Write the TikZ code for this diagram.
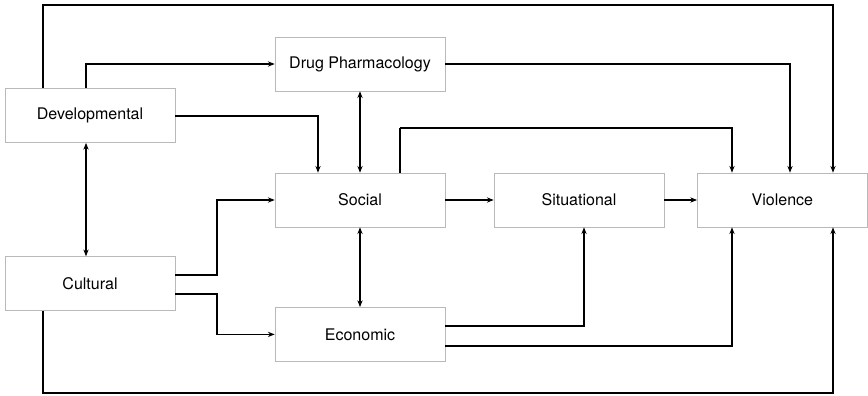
\documentclass[tikz,border=0pt]{standalone}
\usepackage{fontspec}
\setmainfont{TeX Gyre Heros}
\usepackage{tikz}
\usetikzlibrary{arrows.meta}
\usetikzlibrary{positioning}
\tikzset{factor/.style={draw=gray!55, line width=0.4pt, minimum width=42.5mm,
    minimum height=13.5mm, inner sep=0pt, font=\fontsize{11.4}{13}\selectfont}}

\begin{document}
\begin{tikzpicture}[->,>={Stealth[length=1.7mm,width=1.3mm]},
      node distance=50mm,
      on grid,
      line width=1.2pt]

    \useasboundingbox (0,0) rectangle (217mm,-99mm);

    \node[factor]
      (Social) at (90mm,-50mm) {Social};
    \node[factor]
      (Situational) [right=54.75mm of Social] {Situational};
    \node[factor]
      (Violence) [right=50.85mm of Situational] {Violence};
    \node[factor]
      (DrugPharmacology) [above=34mm of Social] {Drug Pharmacology};
    \node[factor]
      (Economic) [below=33.6mm of Social] {Economic};
    \node[factor]
      (Developmental) [above left=21.1mm and 67.5mm of Social] {Developmental};
    \node[factor]
      (Cultural) [below left=20.9mm and 67.5mm of Social] {Cultural};

    \path[->]
      (Social) edge (Situational)
      (Situational) edge (Violence);
    \path[<->]
      (DrugPharmacology) edge (Social)
      (Social) edge (Economic)
      ([xshift=-1mm]Developmental.south) edge ([xshift=-1mm]Cultural.north);

    % paths round the top
    \draw ([xshift=-11.75mm]Developmental.north) -- ++(0,20.9mm)
      -| ([xshift=12.65mm]Violence.north);
    \draw ([xshift=-1mm]Developmental.north) |- (DrugPharmacology.west);
    \draw (DrugPharmacology.east) -| ([xshift=1.9mm]Violence.north);
    \draw ([yshift=-0.15mm]Developmental.east) -| ([xshift=-10.5mm]Social.north);
    \draw[-] ([xshift=10mm]Social.north) -- ++(0,11.25mm) coordinate (socup);
    \draw (socup) -| ([xshift=-12.6mm]Violence.north);

    % paths round the bottom
    \draw ([yshift=2.1mm]Cultural.east) -- ++(10.5mm,0) |- (Social.west);
    \draw ([yshift=-2.6mm]Cultural.east) -- ++(10.5mm,0) |- (Economic.west);
    \draw ([yshift=2.1mm]Economic.east) -| ([xshift=1.25mm]Situational.south);
    \draw ([yshift=-2.9mm]Economic.east) -| ([xshift=-12.6mm]Violence.south);
    \draw ([xshift=-11.75mm]Cultural.south) -- ++(0,-20.6mm)
      -| ([xshift=12.65mm]Violence.south);

  \end{tikzpicture}
\end{document}
